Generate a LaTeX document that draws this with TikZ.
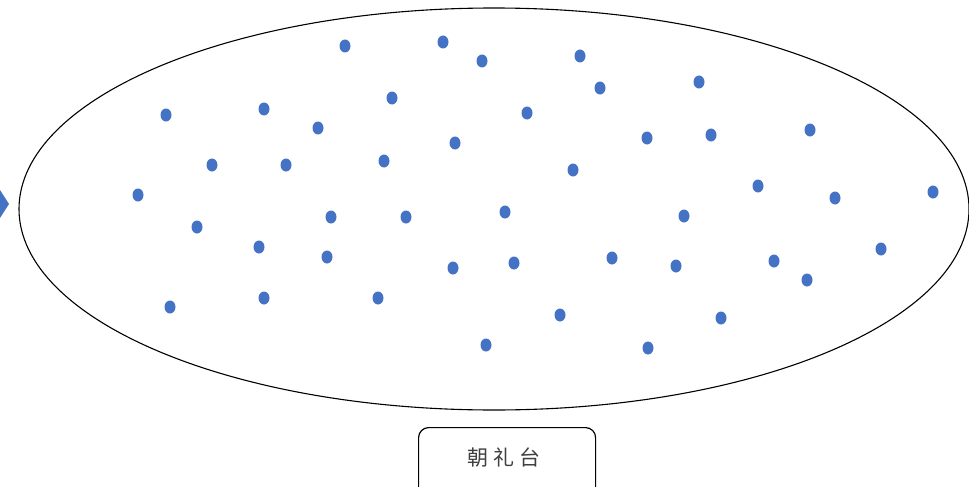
\documentclass[tikz,border=0pt]{standalone}
\usepackage{fontspec}
\newfontfamily\cjk{Noto Sans CJK SC}
\definecolor{dotblue}{HTML}{4472C4}
\definecolor{txtgray}{HTML}{404040}
\begin{document}
\begin{tikzpicture}[x=1pt,y=-1pt,
  stagebox/.style={draw=black,line width=1.2pt,rounded corners=10pt,minimum width=177pt,minimum height=70pt,anchor=north west}]
\useasboundingbox (0,0) rectangle (969,487);
\begin{scope}
\clip (0,0) rectangle (969,487);
\fill[dotblue] (-10,190) -- (0,190) -- (9,204) -- (0,218) -- (-10,218) -- cycle;
\draw[line width=1.1pt] (494,209) ellipse [x radius=475, y radius=201];
\node[stagebox] (stage) at (418,427) {};
\end{scope}
\node[font=\cjk\fontsize{21}{24}\selectfont,text=txtgray] (label) at (504,457) {朝\hspace{5pt}礼\hspace{5pt}台};
\foreach \px/\py [count=\i] in {345/46,443/42,482/61,580/56,699/82,600/88,166/115,264/109,392/98,527/113,318/128,455/143,647/138,711/135,810/130,212/165,286/165,384/161,573/170,758/186,835/198,933/192,138/195,197/227,331/217,406/217,505/212,684/216,259/247,327/257,453/268,514/263,612/258,676/266,774/261,807/280,881/249,170/307,264/298,378/298,560/315,721/318,486/345,648/348}
  \fill[dotblue] (\px,\py) ellipse [x radius=5.5, y radius=6.5];
\end{tikzpicture}
\end{document}
